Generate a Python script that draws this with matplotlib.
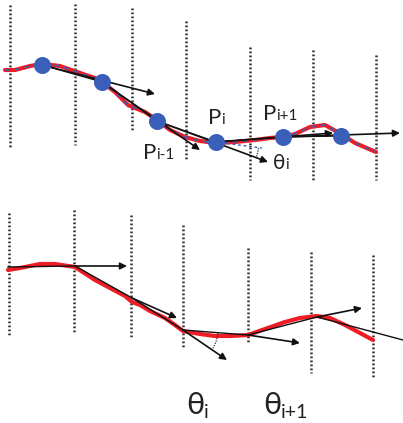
import matplotlib.pyplot as plt
import numpy as np
from matplotlib.patches import Arc

# ---- top panel (pixel coordinates, y grows downward) ----
top_grid_x = [10, 75, 132, 186, 250, 313, 376]
top_grid_y0 = [5, 4, 8, 21, 47, 50, 55]
top_grid_y1 = [147, 145, 130, 160, 180, 180, 180]

top_curve_x = [5, 15, 30, 42, 60, 80, 95, 102, 115, 128, 135, 145, 157, 170,
               185, 200, 216, 235, 255, 270, 283, 295, 310, 325, 341, 355, 376]
top_curve_y = [70, 70, 66, 64, 66, 73, 78, 82, 92, 105, 108, 112, 120, 130,
               137, 141, 143, 142, 140, 138, 137, 134, 127, 125, 134, 143, 152]

top_pts_x = [42, 102, 157, 216, 283, 341]
top_pts_y = [65, 82, 121, 142, 137, 136]

top_arrow_start = [(42, 65), (102, 82), (157, 121), (216, 142), (283, 137)]
top_arrow_end = [(155, 94), (200, 150), (268, 162), (333, 133), (400, 133)]

# ---- bottom panel ----
bot_grid_x = [9, 74, 131, 183, 248, 311, 373]
bot_grid_y0 = [213, 210, 215, 225, 248, 252, 255]
bot_grid_y1 = [335, 333, 337, 348, 342, 373, 377]

bot_poly_x = [8, 75, 132, 183, 248, 317, 403]
bot_poly_y = [267, 266, 298, 330, 335, 317, 340]

bot_curve_x = [8, 20, 40, 55, 75, 95, 110, 125, 132, 140, 150, 165, 175, 183,
               200, 215, 230, 248, 265, 285, 300, 317, 330, 345, 360, 373]
bot_curve_y = [270, 268, 264, 264, 267, 280, 288, 296, 302, 305, 311, 318,
               325, 331, 334, 336, 336, 335, 329, 322, 318, 316, 318, 325,
               333, 340]

bot_arrow_start = [(75, 266), (132, 298), (183, 330), (248, 335), (317, 317)]
bot_arrow_end = [(127, 266), (177, 318), (227, 360), (300, 343), (362, 308)]

BLUE = '#3a5fb8'
RED = '#ee1c25'
DOT = (0, (0.7, 0.9))

fig = plt.figure(figsize=(4.03, 4.23), dpi=100)
ax = fig.add_axes([0, 0, 1, 1])
ax.set_xlim(0, 403)
ax.set_ylim(423, 0)
ax.axis('off')


def grid(xs, y0s, y1s):
    for x, a, b in zip(xs, y0s, y1s):
        ax.plot([x, x], [a, b], color='#2a2a2a', lw=1.8, ls=DOT, zorder=1)


def arrows(starts, ends, lw=1.2):
    for s, e in zip(starts, ends):
        ax.annotate('', xy=e, xytext=s,
                    arrowprops=dict(arrowstyle='-|>', color='#111111', lw=lw,
                                    mutation_scale=10, shrinkA=0, shrinkB=0),
                    zorder=4)


# top
grid(top_grid_x, top_grid_y0, top_grid_y1)
ax.plot(top_curve_x, top_curve_y, color=RED, lw=3, zorder=2,
        solid_capstyle='round')
ax.plot(top_curve_x, top_curve_y, color=BLUE, lw=1.2, ls=(0, (3, 3)),
        zorder=3)
ax.plot(top_pts_x, top_pts_y, color='#111111', lw=0.9, zorder=3)
arrows(top_arrow_start, top_arrow_end)
ax.plot([216, 262], [142, 148], color=BLUE, lw=1, ls=(0, (2, 2)), zorder=3)
ax.add_patch(Arc((216, 142), 86, 86, theta1=8, theta2=20, color='#333333',
                 lw=0.9, ls=(0, (1, 1)), zorder=4))
ax.scatter(top_pts_x, top_pts_y, s=150, color=BLUE, zorder=5, linewidths=0)

lab = dict(family=['Lato', 'DejaVu Sans'], color='#222222', zorder=6)
ax.text(208, 124, 'P', fontsize=16, ha='left', va='baseline', **lab)
ax.text(221, 124, 'i', fontsize=11, ha='left', va='baseline', **lab)
ax.text(263, 120, 'P', fontsize=16, ha='left', va='baseline', **lab)
ax.text(276, 120, 'i+1', fontsize=11, ha='left', va='baseline', **lab)
ax.text(143, 159, 'P', fontsize=16, ha='left', va='baseline', **lab)
ax.text(156, 159, 'i-1', fontsize=11, ha='left', va='baseline', **lab)
ax.text(273, 169, 'θ', fontsize=15, ha='left', va='baseline', **lab)
ax.text(285, 169, 'i', fontsize=11, ha='left', va='baseline', **lab)

# bottom
grid(bot_grid_x, bot_grid_y0, bot_grid_y1)
ax.plot(bot_curve_x, bot_curve_y, color=RED, lw=3, zorder=2,
        solid_capstyle='round')
ax.plot(bot_poly_x, bot_poly_y, color='#111111', lw=1.0, zorder=3)
arrows(bot_arrow_start, bot_arrow_end)
ang = np.degrees(np.arctan2(360 - 330, 227 - 183))
ax.add_patch(Arc((183, 330), 70, 70, theta1=5, theta2=ang, color='#333333',
                 lw=0.9, ls=(0, (1, 1)), zorder=4))

ax.text(186, 414, 'θ', fontsize=22, ha='left', va='baseline', **lab)
ax.text(204, 418, 'i', fontsize=14, ha='left', va='baseline', **lab)
ax.text(263, 414, 'θ', fontsize=22, ha='left', va='baseline', **lab)
ax.text(281, 418, 'i+1', fontsize=14, ha='left', va='baseline', **lab)

fig.savefig('out.png', dpi=100)
